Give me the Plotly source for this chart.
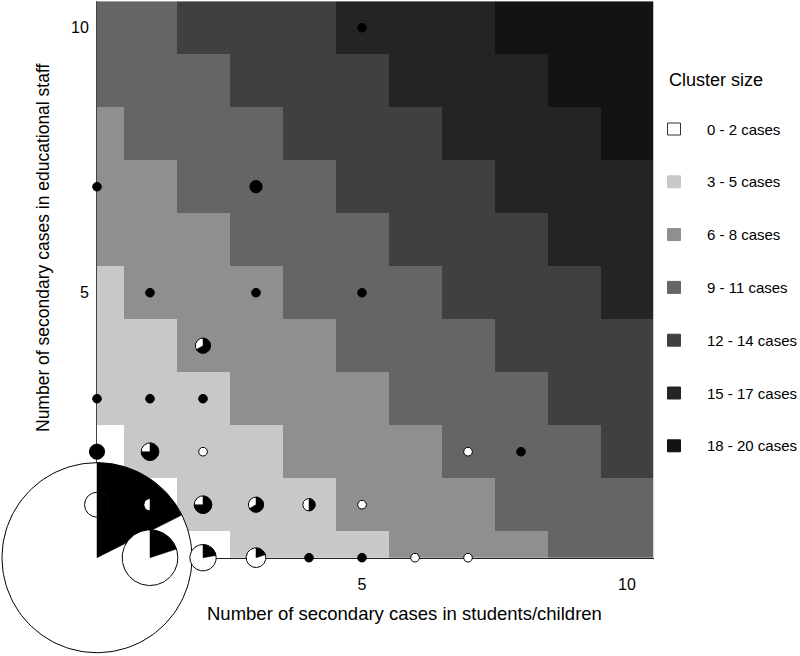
import numpy as np
import plotly.graph_objects as go

# ---------------- data ----------------
students = [0, 1, 2, 3, 4, 5, 6, 7, 8, 9, 10]   # secondary cases in students/children
staff = [0, 1, 2, 3, 4, 5, 6, 7, 8, 9, 10]      # secondary cases in educational staff

size_labels = ['0 - 2 cases', '3 - 5 cases', '6 - 8 cases', '9 - 11 cases',
               '12 - 14 cases', '15 - 17 cases', '18 - 20 cases']
size_colors = ['#ffffff', '#c8c8c8', '#8f8f8f', '#656565',
               '#404040', '#242424', '#131313']

# observed clusters: position, number of clusters, number in the dark share
pie_students = [0, 1, 2, 3, 4, 5, 6, 7,
                0, 1, 2, 3, 4, 5,
                0, 1, 2, 7, 8,
                0, 1, 2,
                2,
                1, 3, 5,
                0, 3,
                5]
pie_staff = [0, 0, 0, 0, 0, 0, 0, 0,
             1, 1, 1, 1, 1, 1,
             2, 2, 2, 2, 2,
             3, 3, 3,
             4,
             5, 5, 5,
             7, 7,
             10]
pie_clusters = [466, 40, 9, 5, 1, 1, 1, 1,
                8, 2, 4, 3, 2, 1,
                3, 4, 1, 1, 1,
                1, 1, 1,
                3,
                1, 1, 1,
                1, 2,
                1]
pie_dark = [82, 8, 2, 1, 1, 1, 0, 0,
            4, 1, 3, 2, 1, 0,
            3, 3, 0, 0, 1,
            1, 1, 1,
            2,
            1, 1, 1,
            1, 2,
            1]

# ---------------- geometry ----------------
W, H = 800, 656
PX = 53.0                      # pixels per unit on both axes
X0, Y0 = 97.0, 557.7           # pixel position of (0, 0)
R1 = 4.4                       # pie radius (px) for a single cluster


def px(x):
    return x / W


def py(y):
    return 1 - y / H


xdom = [X0 / W, (X0 + 10.5 * PX) / W]
ydom = [(H - Y0) / H, min(1.0, (H - Y0 + 10.5 * PX) / H)]

# heatmap: class of total secondary cases
z = [[(s + e) // 3 for s in students] for e in staff]
cs = []
for i, c in enumerate(size_colors):
    cs += [[i / 7, c], [(i + 1) / 7, c]]

fig = go.Figure()
fig.add_trace(go.Heatmap(
    x=students, y=staff, z=z, zmin=-0.5, zmax=6.5,
    colorscale=cs, showscale=False, hoverinfo='skip'
))

# pies, biggest first so small ones sit on top
order = np.argsort(pie_clusters, kind='stable')[::-1]
for k in order:
    cx, cy = pie_students[k], pie_staff[k]
    n, d = pie_clusters[k], pie_dark[k]
    r = R1 * np.sqrt(n) / PX
    t = np.linspace(0, 2 * np.pi, 160)
    full = d == n
    fig.add_trace(go.Scatter(
        x=cx + r * np.cos(t), y=cy + r * np.sin(t),
        mode='lines', fill='toself',
        fillcolor='black' if full else 'white',
        line=dict(color='black', width=1),
        xaxis='x2', yaxis='y2', hoverinfo='skip', showlegend=False
    ))
    if 0 < d < n:
        a = np.pi / 2 - np.linspace(0, 2 * np.pi * d / n, 80)
        wx = np.concatenate([[cx], cx + r * np.cos(a), [cx]])
        wy = np.concatenate([[cy], cy + r * np.sin(a), [cy]])
        fig.add_trace(go.Scatter(
            x=wx, y=wy, mode='lines', fill='toself', fillcolor='black',
            line=dict(color='black', width=0.5),
            xaxis='x2', yaxis='y2', hoverinfo='skip', showlegend=False
        ))

# ---------------- legend (drawn by hand) ----------------
annotations = [dict(
    x=px(667), y=py(80), xref='paper', yref='paper',
    text='Cluster size', showarrow=False, xanchor='left', yanchor='middle',
    font=dict(size=18, color='black')
)]
shapes = []
for i, (lab, col) in enumerate(zip(size_labels, size_colors)):
    yc = 129 + i * 52.8
    shapes.append(dict(
        type='rect', xref='paper', yref='paper',
        x0=px(674 - 6.5), x1=px(674 + 6.5),
        y0=py(yc + 6), y1=py(yc - 6),
        fillcolor=col, line=dict(color='#333333' if i == 0 else col, width=1)
    ))
    annotations.append(dict(
        x=px(705), y=py(yc), xref='paper', yref='paper',
        text=lab, showarrow=False, xanchor='left', yanchor='middle',
        font=dict(size=15, color='black')
    ))

annotations.append(dict(
    x=px(404), y=py(613), xref='paper', yref='paper',
    text='Number of secondary cases in students/children', showarrow=False,
    xanchor='center', yanchor='middle', font=dict(size=18.5, color='black')
))
annotations.append(dict(
    x=px(43), y=py(248), xref='paper', yref='paper',
    text='Number of secondary cases in educational staff', showarrow=False,
    textangle=-90, xanchor='center', yanchor='middle',
    font=dict(size=17.5, color='black')
))

fig.update_layout(
    width=W, height=H,
    margin=dict(l=0, r=0, t=0, b=0),
    paper_bgcolor='white', plot_bgcolor='rgba(0,0,0,0)',
    font=dict(family='Liberation Sans, Arial, sans-serif', size=16, color='black'),
    showlegend=False,
    xaxis=dict(domain=xdom, range=[0, 10.5], anchor='y', tickvals=[5, 10],
               showgrid=False, zeroline=False, showline=True, linecolor='#222222',
               linewidth=1, ticks='outside', ticklen=12, tickcolor='rgba(0,0,0,0)',
               tickfont=dict(size=16)),
    yaxis=dict(domain=ydom, range=[0, (ydom[1] * H - (H - Y0)) / PX], anchor='x',
               tickvals=[5, 10],
               showgrid=False, zeroline=False, showline=True, linecolor='#444444',
               linewidth=1, ticks='outside', ticklen=4, tickcolor='rgba(0,0,0,0)',
               tickfont=dict(size=16)),
    xaxis2=dict(domain=[0, 1], range=[-X0 / PX, (W - X0) / PX], anchor='y2',
                visible=False, fixedrange=True),
    yaxis2=dict(domain=[0, 1], range=[-(H - Y0) / PX, Y0 / PX], anchor='x2',
                visible=False, fixedrange=True),
    annotations=annotations,
    shapes=shapes,
)

# the page's default body margin would push the figure 8px off the corner
fig.write_html('out.html', config={'displayModeBar': False},
               post_script="document.body.style.margin='0px';")
